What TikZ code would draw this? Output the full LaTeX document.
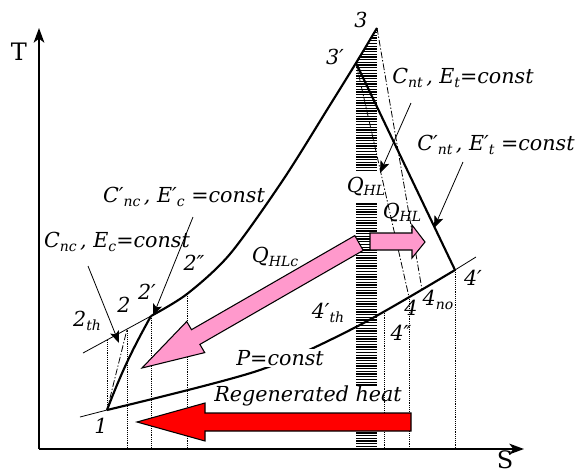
\documentclass[tikz,border=0pt]{standalone}
\usepackage{fontspec}
\setmainfont{DejaVu Serif}
\usetikzlibrary{arrows.meta, positioning}

\definecolor{heatpink}{RGB}{255,153,204}
\definecolor{regenred}{RGB}{255,0,0}
\newcommand{\lo}[1]{\raisebox{-0.3ex}{\fontsize{10.5}{11}\selectfont #1}}

\begin{document}
\begin{tikzpicture}[x=0.75pt, y=-0.75pt,
    lbl/.style={font=\fontsize{15.5}{17}\selectfont\itshape, inner sep=1pt},
    axislbl/.style={font=\fontsize{18}{20}\selectfont, inner sep=1pt},
    axisln/.style={line width=1.5pt, -{Stealth[length=11pt, width=8pt, inset=3pt]}},
    bold/.style={line width=1.6pt},
    extln/.style={line width=0.6pt},
    dotln/.style={line width=0.4pt, densely dotted},
    dashdotln/.style={line width=0.6pt, dash pattern=on 5pt off 1.5pt on 1pt off 1.5pt},
    hatchln/.style={line width=1pt},
    ptr/.style={line width=0.6pt, -{Stealth[length=9pt, width=7pt, inset=2pt]}},
    bigarrow/.style={draw, line width=0.8pt}
]
\useasboundingbox (0,0) rectangle (578,475);

% state points
\coordinate (o) at (39,449);
\coordinate (p1) at (107,410);
\coordinate (p2th) at (107,340);
\coordinate (p2) at (127,329.5);
\coordinate (p2a) at (151,316);
\coordinate (p2b) at (187,294);
\coordinate (p3) at (377,28);
\coordinate (p3a) at (356,63);
\coordinate (p4b) at (384,311);
\coordinate (p4) at (409,297);
\coordinate (p4no) at (422,289.5);
\coordinate (p4a) at (455,270);

% hatched bar (entropy rise in the heater)
\foreach \y in {30,32.7,...,172} {
    \pgfmathsetmacro{\xl}{max(356,356+(63-\y)*0.6)}
    \draw[hatchln] (\xl,\y) -- (377,\y);
}
\foreach \y in {204,206.7,...,385} {
    \draw[hatchln] (356,\y) -- (377,\y);
}
\foreach \y in {433,435.7,...,448} {
    \draw[hatchln] (356,\y) -- (377,\y);
}

% axes
\draw[axisln] (o) -- (39,28);
\draw[axisln] (o) -- (524,449);
\node[axislbl] (tlab) at (19,52) {T};
\node[axislbl] (slab) at (505,460) {S};

% isobars
\coordinate (hiL) at (83,353);
\coordinate (loL) at (80,417);
\coordinate (loR) at (476,257);
\draw[extln] (hiL) -- (p2a);
\draw[bold] plot[smooth] coordinates {(151,316) (187,294) (230,254) (283,180) (330,105) (356,63) (377,28)};
\draw[extln] (loL) -- (p1);
\draw[bold] plot[smooth] coordinates {(107,410) (257,371) (356,327) (455,270)};
\draw[extln] (p4a) -- (loR);

% compression and expansion
\draw[dotln] (p1) -- (p2th);
\draw[dashdotln] (p1) -- (p2);
\draw[bold] (p1) to[bend left=4] (p2a);
\draw[bold] (p3a) -- (p4a);
\draw[dashdotln] (p3a) -- (p4);
\draw[dashdotln] (p3) -- (p4no);

% entropy marks down to the axis
\foreach \p/\x in {p2/127, p2a/151, p2b/187, p4b/384, p4/409, p4a/455} {
    \draw[dotln] (\p) -- (\x,449);
}

% heat arrows
\draw[bigarrow, fill=heatpink] (354.8,235.6) -- (191.5,329.7) -- (186.7,321.5) -- (142,368)
    -- (204.7,352.6) -- (199.9,344.4) -- (363.2,250.4) -- cycle;
\draw[bigarrow, fill=heatpink] (370,233) -- (412,233) -- (412,225) -- (425,242)
    -- (412,258) -- (412,250) -- (370,250) -- cycle;
\draw[bigarrow, fill=regenred] (411,413) -- (205,413) -- (205,403) -- (137,422)
    -- (205,441) -- (205,431) -- (411,431) -- cycle;

% point labels
\node[lbl] (l1) at (101,426) {1};
\node[lbl] (l2th) at (87,321) {2\lo{th}};
\node[lbl] (l2) at (124,305) {2};
\node[lbl] (l2a) at (147,292) {2′};
\node[lbl] (l2b) at (194,263) {2″};
\node[lbl] (l3) at (361,20) {3};
\node[lbl] (l3a) at (335,57) {3′};
\node[lbl] (l4th) at (328,313) {4′\lo{th}};
\node[lbl] (l4) at (411,308) {4};
\node[lbl] (l4no) at (438,300) {4\lo{no}};
\node[lbl] (l4a) at (473,278) {4′};
\node[lbl] (l4b) at (401,333) {4″};

% process labels
\node[lbl] (cnc) at (117,242) {C\lo{nc}\,, E\lo{c}=const};
\node[lbl] (cnca) at (184,197) {C′\lo{nc}\,, E′\lo{c} =const};
\node[lbl] (cnt) at (463,78) {C\lo{nt}\,, E\lo{t}=const};
\node[lbl] (cnta) at (496,145) {C′\lo{nt}\,, E′\lo{t} =const};
\node[lbl] (qhl) at (366,186) {Q\lo{HL}};
\node[lbl] (qhlb) at (402,212) {Q\lo{HL}};
\node[lbl] (qhlc) at (275,257) {Q\lo{HLc}};
\node[lbl, fill=white] (pconst) at (280,358) {P=const};
\node[lbl] (regen) at (308,396) {Regenerated heat};

% pointers
\coordinate (acnc) at (88,266);
\coordinate (tcnc) at (119,343);
\coordinate (acnca) at (193,217);
\coordinate (tcnca) at (153,316);
\coordinate (acnt) at (411,103);
\coordinate (tcnt) at (380,173);
\coordinate (acnta) at (463,162);
\coordinate (tcnta) at (434,228);
\draw[ptr] (acnc) -- (tcnc);
\draw[ptr] (acnca) -- (tcnca);
\draw[ptr] (acnt) -- (tcnt);
\draw[ptr] (acnta) -- (tcnta);
\end{tikzpicture}
\end{document}
